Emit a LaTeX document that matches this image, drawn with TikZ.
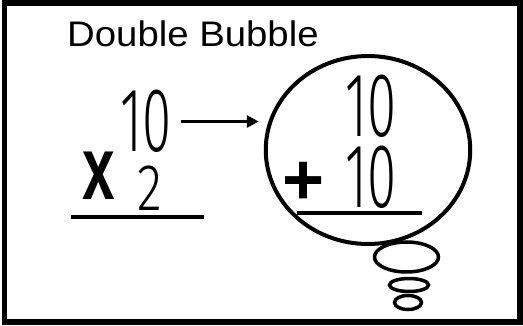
\documentclass[tikz,border=0pt]{standalone}
\usepackage{fontspec}
\setmainfont{Liberation Sans}
\newfontfamily\thinfont{Fira Sans Light}
\usetikzlibrary{shapes.geometric,arrows.meta}
\newcommand{\narrow}[2]{\scalebox{#1}[1]{#2}}

\begin{document}
\begin{tikzpicture}[x=1pt,y=-1pt,
  digit/.style={inner sep=0pt,font=\thinfont\fontsize{#1}{#1}\selectfont},
  sign/.style={inner sep=0pt,font=\bfseries\fontsize{#1}{#1}\selectfont},
  puff/.style={draw,ellipse,line width=3.5pt,inner sep=0pt},
  rule/.style={line width=4.5pt},
  arr/.style={-{Triangle[length=12pt,width=12pt]},line width=3.5pt}]
\useasboundingbox (0,0) rectangle (523,326);
\draw[line width=5.5pt] (4.5,3) rectangle (520,322);
\node[anchor=base west,inner sep=0pt,font=\fontsize{35.5}{36}\selectfont] (title) at (67,47) {\narrow{1.08}{Double Bubble}};
% left sum
\node[digit=91] (ten1) at (146,121.5) {\narrow{0.58}{10}};
\node[digit=66] (two) at (150,188.5) {\narrow{0.78}{2}};
\node[sign=90] (times) at (98.5,176) {\narrow{0.65}{x}};
\draw[rule] (71,217) -- (204,217);
% thought bubble
\node[puff,minimum width=64pt,minimum height=30pt] (puff1) at (406.5,257) {};
\node[puff,minimum width=39pt,minimum height=13pt] (puff2) at (409,285) {};
\node[puff,minimum width=27pt,minimum height=14pt] (puff3) at (408,302.5) {};
\node[draw,ellipse,line width=4pt,fill=white,inner sep=0pt,minimum width=204.5pt,minimum height=188pt] (bubble) at (368,150) {};
\node[digit=91] (ten2) at (371,106.5) {\narrow{0.58}{10}};
\node[digit=91] (ten3) at (371,177) {\narrow{0.58}{10}};
\node[sign=72,anchor=base] (plus) at (303.5,205) {+};
\draw[rule] (297,213) -- (422,213);
\draw[arr] ([xshift=9pt]ten1.east) -- ([xshift=-5pt]ten1.east -| bubble.west);
\end{tikzpicture}
\end{document}
